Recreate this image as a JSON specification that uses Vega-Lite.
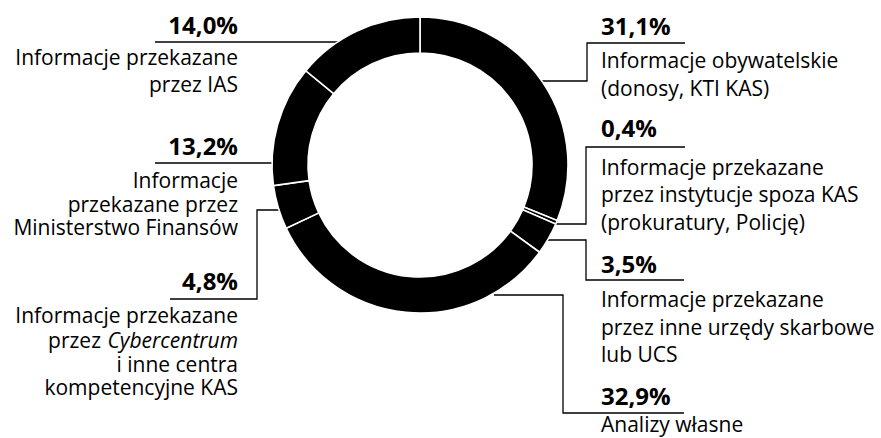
{
  "$schema": "https://vega.github.io/schema/vega-lite/v6.json",
  "width": 840,
  "height": 330,
  "autosize": "none",
  "padding": {"left": 0, "top": 0, "right": 41, "bottom": 108},
  "background": "white",
  "config": {"view": {"stroke": null}, "font": "Open Sans"},
  "datasets": {
    "slices": [
      {"idx": 1, "category": "Informacje obywatelskie (donosy, KTI KAS)", "share": 31.1},
      {"idx": 2, "category": "Informacje przekazane przez instytucje spoza KAS (prokuratury, Policję)", "share": 0.4},
      {"idx": 3, "category": "Informacje przekazane przez inne urzędy skarbowe lub UCS", "share": 3.5},
      {"idx": 4, "category": "Analizy własne", "share": 32.9},
      {"idx": 5, "category": "Informacje przekazane przez Cybercentrum i inne centra kompetencyjne KAS", "share": 4.8},
      {"idx": 6, "category": "Informacje przekazane przez Ministerstwo Finansów", "share": 13.2},
      {"idx": 7, "category": "Informacje przekazane przez IAS", "share": 14.0}
    ],
    "leaders": [
      {"id": "IAS", "seq": 1, "x": 155, "y": 42},
      {"id": "IAS", "seq": 2, "x": 338, "y": 42},
      {"id": "MF", "seq": 1, "x": 155, "y": 163},
      {"id": "MF", "seq": 2, "x": 276, "y": 163},
      {"id": "CC", "seq": 1, "x": 170, "y": 299},
      {"id": "CC", "seq": 2, "x": 257, "y": 299},
      {"id": "CC", "seq": 3, "x": 257, "y": 210},
      {"id": "CC", "seq": 4, "x": 280, "y": 210},
      {"id": "OB", "seq": 1, "x": 685, "y": 43},
      {"id": "OB", "seq": 2, "x": 587, "y": 43},
      {"id": "OB", "seq": 3, "x": 587, "y": 81},
      {"id": "OB", "seq": 4, "x": 540, "y": 81},
      {"id": "SP", "seq": 1, "x": 685, "y": 147},
      {"id": "SP", "seq": 2, "x": 586, "y": 147},
      {"id": "SP", "seq": 3, "x": 586, "y": 224},
      {"id": "SP", "seq": 4, "x": 554, "y": 224},
      {"id": "US", "seq": 1, "x": 684, "y": 280},
      {"id": "US", "seq": 2, "x": 586, "y": 280},
      {"id": "US", "seq": 3, "x": 586, "y": 240},
      {"id": "US", "seq": 4, "x": 547, "y": 240},
      {"id": "AW", "seq": 1, "x": 684, "y": 413},
      {"id": "AW", "seq": 2, "x": 563, "y": 413},
      {"id": "AW", "seq": 3, "x": 563, "y": 295},
      {"id": "AW", "seq": 4, "x": 494, "y": 295}
    ],
    "pcts": [
      {"pct": "14,0%", "x": 238, "y": 34},
      {"pct": "13,2%", "x": 238, "y": 155},
      {"pct": "4,8%", "x": 238, "y": 290},
      {"pct": "31,1%", "x": 601, "y": 35},
      {"pct": "0,4%", "x": 601, "y": 137},
      {"pct": "3,5%", "x": 601, "y": 273},
      {"pct": "32,9%", "x": 601, "y": 405}
    ],
    "desc": [
      {"text": "Informacje przekazane", "x": 238, "y": 65},
      {"text": "przez IAS", "x": 238, "y": 92},
      {"text": "Informacje", "x": 238, "y": 188},
      {"text": "przekazane przez", "x": 238, "y": 212},
      {"text": "Ministerstwo Finansów", "x": 238, "y": 235},
      {"text": "Informacje przekazane", "x": 238, "y": 323},
      {"text": "przez", "x": 101, "y": 348},
      {"text": "Cybercentrum", "x": 238, "y": 348},
      {"text": "i inne centra", "x": 238, "y": 372},
      {"text": "kompetencyjne KAS", "x": 238, "y": 395},
      {"text": "Informacje obywatelskie", "x": 601, "y": 68},
      {"text": "(donosy, KTI KAS)", "x": 601, "y": 96},
      {"text": "Informacje przekazane", "x": 601, "y": 175},
      {"text": "przez instytucje spoza KAS", "x": 601, "y": 202},
      {"text": "(prokuratury, Policję)", "x": 601, "y": 230},
      {"text": "Informacje przekazane", "x": 601, "y": 307},
      {"text": "przez inne urzędy skarbowe", "x": 601, "y": 335},
      {"text": "lub UCS", "x": 601, "y": 362},
      {"text": "Analizy własne", "x": 601, "y": 432}
    ]
  },
  "layer": [
    {
      "data": {"name": "leaders"},
      "mark": {"type": "line", "color": "black", "strokeWidth": 1.3, "interpolate": "linear", "clip": false},
      "encoding": {
        "x": {"field": "x", "type": "quantitative", "scale": {"domain": [0, 840], "nice": false, "zero": false}, "axis": null},
        "y": {"field": "y", "type": "quantitative", "scale": {"domain": [0, 330], "nice": false, "zero": false, "reverse": true}, "axis": null},
        "detail": {"field": "id"},
        "order": {"field": "seq", "type": "quantitative"}
      }
    },
    {
      "data": {"name": "slices"},
      "mark": {"type": "arc", "radius": 148, "innerRadius": 112, "fill": "black", "stroke": "white", "strokeWidth": 1.6},
      "encoding": {
        "theta": {"field": "share", "type": "quantitative", "stack": true},
        "order": {"field": "idx", "type": "quantitative"}
      }
    },
    {
      "data": {"name": "pcts"},
      "transform": [{"filter": "datum.x < 420"}],
      "mark": {"type": "text", "align": "right", "baseline": "alphabetic", "fontSize": 24, "fontWeight": "bold", "color": "black", "clip": false},
      "encoding": {
        "x": {"field": "x", "type": "quantitative"},
        "y": {"field": "y", "type": "quantitative"},
        "text": {"field": "pct"}
      }
    },
    {
      "data": {"name": "pcts"},
      "transform": [{"filter": "datum.x > 420"}],
      "mark": {"type": "text", "align": "left", "baseline": "alphabetic", "fontSize": 24, "fontWeight": "bold", "color": "black", "clip": false},
      "encoding": {
        "x": {"field": "x", "type": "quantitative"},
        "y": {"field": "y", "type": "quantitative"},
        "text": {"field": "pct"}
      }
    },
    {
      "data": {"name": "desc"},
      "transform": [{"filter": "datum.x < 420 && datum.text !== 'Cybercentrum'"}],
      "mark": {"type": "text", "align": "right", "baseline": "alphabetic", "fontSize": 21, "color": "black", "clip": false},
      "encoding": {
        "x": {"field": "x", "type": "quantitative"},
        "y": {"field": "y", "type": "quantitative"},
        "text": {"field": "text"}
      }
    },
    {
      "data": {"name": "desc"},
      "transform": [{"filter": "datum.text === 'Cybercentrum'"}],
      "mark": {"type": "text", "align": "right", "baseline": "alphabetic", "fontSize": 21, "fontStyle": "italic", "color": "black", "clip": false},
      "encoding": {
        "x": {"field": "x", "type": "quantitative"},
        "y": {"field": "y", "type": "quantitative"},
        "text": {"field": "text"}
      }
    },
    {
      "data": {"name": "desc"},
      "transform": [{"filter": "datum.x > 420"}],
      "mark": {"type": "text", "align": "left", "baseline": "alphabetic", "fontSize": 21, "color": "black", "clip": false},
      "encoding": {
        "x": {"field": "x", "type": "quantitative"},
        "y": {"field": "y", "type": "quantitative"},
        "text": {"field": "text"}
      }
    }
  ]
}
